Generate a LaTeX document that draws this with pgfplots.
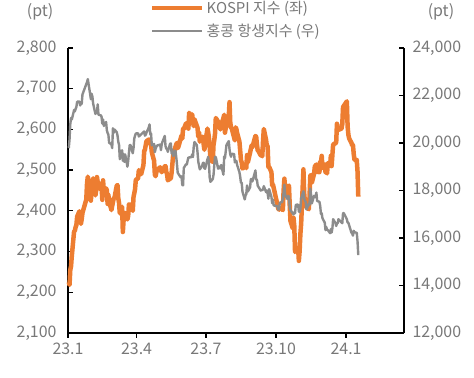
\documentclass[border=0pt]{standalone}
\usepackage{pgfplots}
\pgfplotsset{compat=1.18}
\usepackage{fontspec}
\setmainfont{Noto Sans CJK KR}
\definecolor{kospi}{RGB}{237,125,49}
\definecolor{hsi}{RGB}{140,140,140}
\definecolor{lbl}{RGB}{120,120,120}

\pgfplotstableread{
d v
1 2225
2 2218
3 2255
4 2264
5 2289
8 2350
9 2351
10 2360
11 2365
12 2386
15 2399
16 2379
17 2368
18 2380
19 2395
24 2428
25 2468
26 2484
29 2450
30 2425
31 2449
32 2468
33 2480
36 2438
37 2451
38 2483
39 2470
40 2469
43 2452
44 2465
45 2427
46 2475
47 2451
50 2455
51 2451
52 2417
53 2439
54 2423
57 2402
58 2412
60 2431
61 2432
64 2462
65 2463
66 2431
67 2419
68 2394
71 2410
72 2348
73 2379
74 2377
75 2395
78 2379
79 2388
80 2416
81 2415
82 2414
85 2400
86 2434
87 2443
88 2453
89 2476
92 2480
93 2500
94 2495
95 2490
96 2490
99 2512
100 2547
101 2550
102 2561
103 2571
106 2575
107 2575
108 2563
109 2563
110 2544
113 2523
114 2489
115 2485
116 2495
117 2501
121 2507
122 2500
123 2495
127 2509
128 2510
129 2496
130 2490
131 2475
134 2479
135 2480
136 2494
137 2515
138 2537
141 2557
142 2563
143 2567
144 2554
145 2558
149 2585
150 2577
151 2601
152 2601
155 2615
157 2615
158 2602
159 2641
162 2629
163 2637
164 2619
165 2608
166 2625
169 2609
170 2604
171 2582
172 2593
173 2570
176 2582
177 2581
178 2564
179 2550
180 2564
183 2602
184 2593
185 2579
186 2556
187 2526
190 2520
191 2562
192 2574
193 2590
194 2628
197 2619
198 2608
199 2608
200 2600
201 2609
204 2628
205 2636
206 2592
207 2603
208 2608
211 2632
212 2667
213 2616
214 2605
215 2602
218 2580
219 2573
220 2605
221 2601
222 2591
225 2570
227 2525
228 2519
229 2504
232 2508
233 2516
234 2505
235 2537
236 2519
239 2543
240 2552
241 2561
242 2556
243 2563
246 2584
247 2582
248 2563
249 2548
250 2547
253 2536
254 2538
255 2534
256 2572
257 2601
260 2574
261 2559
262 2559
263 2508
264 2508
267 2495
268 2462
269 2465
276 2405
277 2403
278 2408
282 2402
283 2450
284 2479
285 2456
288 2436
289 2460
290 2462
291 2415
292 2375
295 2357
296 2383
297 2363
298 2299
299 2302
302 2310
303 2277
304 2301
305 2343
306 2368
309 2502
310 2443
311 2421
312 2427
313 2409
316 2404
317 2433
318 2486
319 2488
320 2469
323 2491
324 2510
325 2511
326 2514
327 2496
330 2495
331 2521
332 2519
333 2535
334 2505
337 2514
338 2495
339 2495
340 2492
341 2517
344 2510
345 2535
346 2510
347 2537
348 2563
351 2566
352 2568
353 2614
354 2600
355 2599
359 2602
360 2613
361 2655
366 2669
367 2607
368 2587
369 2578
372 2567
373 2561
374 2562
375 2540
376 2525
379 2525
380 2497
381 2435
}\kospitab

\pgfplotstableread{
d v
1 19781
2 20145
3 20793
4 21052
5 20991
8 21388
9 21331
10 21436
11 21514
12 21738
15 21746
16 21577
17 21678
18 21650
19 22044
25 22566
26 22689
29 22070
30 21842
31 22072
32 21958
33 21660
36 21222
37 21298
38 21283
39 21624
40 21190
43 21164
44 21113
45 20812
46 20987
47 20719
50 20886
51 20529
52 20423
53 20351
54 20010
57 19943
58 19786
59 20619
60 20429
61 20568
64 20453
65 20314
66 20052
67 19926
68 19320
71 19696
72 19248
73 19539
74 19204
75 19519
78 19001
79 19259
80 19591
81 19916
82 19915
85 19567
86 19784
87 20192
88 20309
89 20400
92 20409
93 20275
95 20332
100 20486
101 20309
102 20344
103 20439
106 20650
107 20782
108 20367
109 20397
110 19898
113 19959
114 19617
115 19757
116 19841
117 19895
121 19933
122 19699
123 19948
124 20049
127 20298
128 19867
129 19762
130 19743
131 19628
134 19971
135 19978
136 19560
137 19727
138 19451
141 19678
142 19431
143 19115
144 18746
148 18551
149 18595
150 18234
151 18216
152 18949
155 19108
156 19099
157 19252
158 19389
159 19390
162 19404
163 19521
164 19408
165 19828
166 20040
169 19912
170 19607
171 19218
173 18890
176 19029
177 19148
178 19172
179 18935
180 18916
183 19307
184 19415
185 19110
186 18533
187 18365
190 18479
191 18659
192 19073
193 19413
194 19413
197 18915
198 19015
199 18952
200 18928
201 19075
204 18668
205 19434
206 19365
207 19639
208 19917
211 20079
212 19735
213 19518
214 19421
215 19539
218 19538
219 19184
220 19246
221 19248
222 19075
225 18773
226 18581
227 18329
228 18326
229 17951
232 17624
233 17792
234 17846
235 18212
236 17956
239 18130
240 18485
241 18484
242 18382
246 18844
247 18456
248 18449
249 18202
253 17996
254 18025
255 18010
256 18047
257 18182
260 17931
261 17997
262 17885
263 17655
264 18057
267 17729
268 17466
269 17611
270 17373
275 17331
276 17195
277 17213
278 17486
281 17517
282 17664
283 17893
284 18239
285 17813
288 17641
289 17774
290 17732
291 17295
292 17172
296 16991
297 17085
298 17040
299 17399
302 17406
303 17112
304 17101
305 17231
306 17664
309 17966
310 17670
311 17568
312 17511
313 17203
316 17427
317 17396
318 18079
319 17832
320 17454
323 17778
324 17733
325 17734
326 17911
327 17559
330 17525
331 17354
332 17013
333 17042
334 16830
337 16646
338 16328
339 16463
340 16345
341 16334
344 16201
345 16374
346 16229
347 16402
348 16792
351 16629
352 16505
353 16613
354 16621
355 16792
360 16624
361 17043
362 17047
366 16789
367 16646
368 16645
369 16535
372 16224
373 16190
374 16098
375 16302
376 16244
379 16217
380 15866
381 15277
}\hsitab

\begin{document}
\begin{tikzpicture}
\pgfplotsset{
  base/.style={
    scale only axis, width=336bp, height=285bp,
    xmin=0, xmax=441,
    tick label style={font=\fontsize{16}{18}\selectfont, text=lbl},
    scaled y ticks=false,
    /pgf/number format/1000 sep={,},
    /pgf/number format/assume math mode=true,
    tick align=inside,
    major tick length=5bp,
    axis line style={line width=1.3bp, black},
    tick style={line width=1.3bp, black},
    clip=false,
  }
}
\begin{axis}[base, name=ax,
  axis x line*=bottom, axis y line*=left,
  ymin=2100, ymax=2800, ytick={2100,2200,...,2800},
  xtick={0,90,181,273,365},
  xticklabels={23.1,23.4,23.7,23.10,24.1},
  every x tick/.append style={yshift=-5bp},
  xticklabel style={yshift=-6bp},
  yticklabel style={xshift=-8bp},
]
\addplot[kospi, line width=4.5bp, line join=round] table[x=d,y=v] {\kospitab};
\node[font=\fontsize{16}{18}\selectfont, text=lbl] at (rel axis cs:-0.083,1.126) {(pt)};
\node[font=\fontsize{16}{18}\selectfont, text=lbl] at (rel axis cs:1.110,1.126) {(pt)};
\end{axis}
\begin{axis}[base,
  hide x axis, axis y line*=right,
  ymin=12000, ymax=24000, ytick={12000,14000,...,24000},
  yticklabel style={xshift=5bp},
  legend style={at={(0.244,1.172)}, anchor=north west, draw=none, fill=none,
    inner sep=0pt, row sep=5bp, font=\fontsize{15}{17}\selectfont, text=lbl,
    /tikz/every even column/.append style={column sep=6bp}},
  legend cell align=left,
  legend image code/.code={\draw[#1] (0bp,0bp) -- (50bp,0bp);},
]
\addlegendimage{kospi, line width=4.5bp}
\addlegendentry{KOSPI 지수 (좌)}
\addplot[hsi, line width=2.4bp, line join=round] table[x=d,y=v] {\hsitab};
\addlegendentry{홍콩 항생지수 (우)}
\end{axis}
\pgfresetboundingbox
\path ([xshift=-68bp,yshift=-45bp]ax.south west) rectangle ([xshift=70bp,yshift=48bp]ax.north east);
\end{tikzpicture}
\end{document}
